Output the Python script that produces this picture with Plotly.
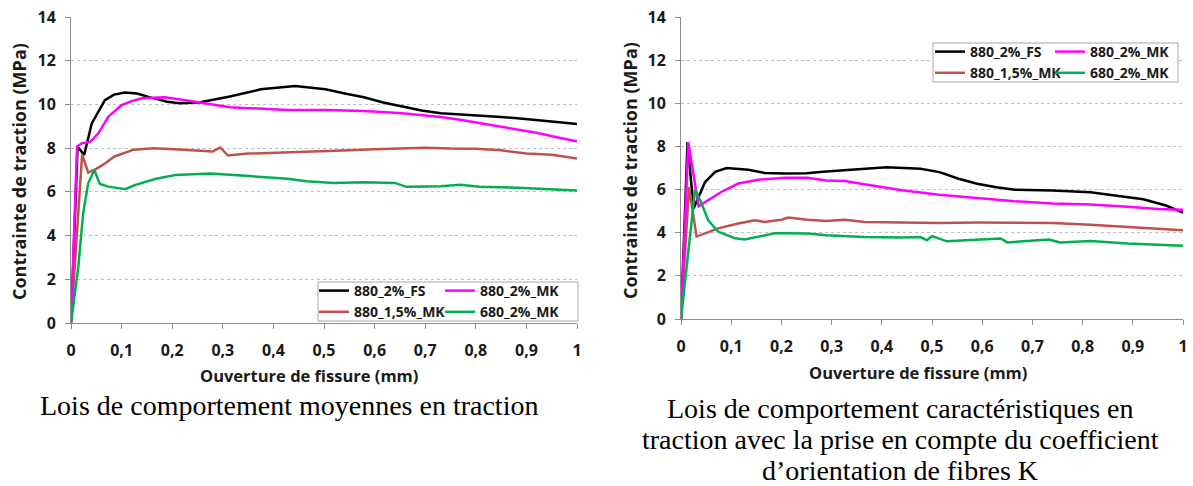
import plotly.graph_objects as go

W, H = 1193, 486


def px(x):
    return x / W


def py(y):
    return 1 - y / H


# ---------------- data : left chart (moyennes) ----------------
L_FS_x = [0, 0.013, 0.026, 0.041, 0.067, 0.085, 0.107, 0.13, 0.16, 0.19, 0.215, 0.253, 0.314, 0.375,
          0.443, 0.503, 0.541, 0.579, 0.617, 0.655, 0.693, 0.731, 0.77, 0.807, 0.85, 0.882, 0.92, 0.96, 1.0]
L_FS_y = [0, 8.07, 7.69, 9.13, 10.2, 10.45, 10.55, 10.5, 10.3, 10.12, 10.05, 10.09, 10.36, 10.69,
          10.84, 10.69, 10.5, 10.33, 10.09, 9.9, 9.72, 9.6, 9.53, 9.48, 9.42, 9.37, 9.3, 9.2, 9.1]

L_MK2_x = [0, 0.012, 0.021, 0.038, 0.054, 0.074, 0.1, 0.12, 0.14, 0.162, 0.185, 0.223, 0.276, 0.314,
           0.352, 0.428, 0.503, 0.579, 0.655, 0.693, 0.731, 0.769, 0.807, 0.845, 0.882, 0.92, 0.96, 1.0]
L_MK2_y = [0, 8.07, 8.22, 8.29, 8.68, 9.44, 9.97, 10.15, 10.28, 10.32, 10.33, 10.2, 10.02, 9.87,
           9.83, 9.75, 9.75, 9.7, 9.6, 9.52, 9.42, 9.3, 9.15, 9.0, 8.85, 8.7, 8.5, 8.31]

L_MK15_x = [0, 0.022, 0.034, 0.05, 0.067, 0.086, 0.124, 0.162, 0.205, 0.25, 0.28, 0.295, 0.31, 0.35,
            0.4, 0.45, 0.5, 0.55, 0.6, 0.65, 0.7, 0.75, 0.8, 0.85, 0.9, 0.95, 1.0]
L_MK15_y = [0, 7.72, 6.88, 7.05, 7.3, 7.62, 7.93, 8.0, 7.95, 7.9, 7.85, 8.03, 7.66, 7.75,
            7.78, 7.82, 7.86, 7.9, 7.95, 8.0, 8.02, 7.98, 7.97, 7.9, 7.75, 7.7, 7.52]

L_680_x = [0, 0.0145, 0.024, 0.034, 0.046, 0.057, 0.074, 0.107, 0.126, 0.166, 0.206, 0.276, 0.352,
           0.428, 0.466, 0.519, 0.579, 0.64, 0.663, 0.731, 0.769, 0.807, 0.882, 0.94, 1.0]
L_680_y = [0, 2.58, 5.02, 6.39, 7.0, 6.36, 6.24, 6.12, 6.31, 6.59, 6.77, 6.84, 6.72,
           6.6, 6.49, 6.41, 6.44, 6.41, 6.23, 6.26, 6.32, 6.23, 6.19, 6.12, 6.06]

# ---------------- data : right chart (caractéristiques) ----------------
R_FS_x = [0, 0.013, 0.025, 0.035, 0.048, 0.068, 0.091, 0.134, 0.167, 0.207, 0.25, 0.289, 0.365, 0.41,
          0.477, 0.515, 0.553, 0.59, 0.628, 0.665, 0.74, 0.816, 0.853, 0.89, 0.921, 0.966, 1.0]
R_FS_y = [0, 8.2, 5.12, 5.66, 6.35, 6.82, 7.0, 6.92, 6.77, 6.74, 6.76, 6.84, 6.96, 7.04,
          6.96, 6.81, 6.5, 6.27, 6.11, 5.99, 5.96, 5.88, 5.76, 5.65, 5.55, 5.26, 4.93]

R_MK2_x = [0, 0.0146, 0.035, 0.054, 0.081, 0.114, 0.154, 0.207, 0.252, 0.289, 0.327, 0.365, 0.44,
           0.515, 0.59, 0.665, 0.74, 0.816, 0.89, 0.95, 1.0]
R_MK2_y = [0, 8.2, 5.23, 5.5, 5.9, 6.28, 6.46, 6.55, 6.55, 6.42, 6.4, 6.25, 5.97,
           5.76, 5.6, 5.46, 5.36, 5.31, 5.2, 5.1, 5.06]

R_MK15_x = [0, 0.016, 0.031, 0.048, 0.074, 0.114, 0.147, 0.167, 0.2, 0.214, 0.252, 0.289, 0.327,
            0.365, 0.44, 0.515, 0.59, 0.665, 0.74, 0.816, 0.89, 0.95, 1.0]
R_MK15_y = [0, 6.12, 3.82, 3.97, 4.2, 4.43, 4.58, 4.5, 4.6, 4.7, 4.6, 4.54, 4.6,
            4.5, 4.47, 4.45, 4.47, 4.47, 4.45, 4.37, 4.27, 4.2, 4.11]

R_680_x = [0, 0.028, 0.041, 0.054, 0.074, 0.108, 0.127, 0.154, 0.187, 0.207, 0.252, 0.289, 0.365,
           0.44, 0.477, 0.49, 0.5, 0.53, 0.59, 0.637, 0.65, 0.703, 0.733, 0.755, 0.816, 0.89, 1.0]
R_680_y = [0, 6.0, 5.35, 4.58, 4.05, 3.74, 3.69, 3.82, 3.97, 3.97, 3.96, 3.88, 3.8,
           3.78, 3.8, 3.65, 3.84, 3.6, 3.68, 3.73, 3.55, 3.62, 3.68, 3.55, 3.62, 3.5, 3.39]

NAMES = ["880_2%_FS", "880_1,5%_MK", "880_2%_MK", "680_2%_MK"]
COLORS = ["#000000", "#C0504D", "#FF00FF", "#00B050"]

X_TICKS = [0, 0.1, 0.2, 0.3, 0.4, 0.5, 0.6, 0.7, 0.8, 0.9, 1]
Y_TICKS = [0, 2, 4, 6, 8, 10, 12, 14]

X_TITLE = "Ouverture de fissure (mm)"
Y_TITLE = "Contrainte de traction (MPa)"
CAP_LEFT = "Lois de comportement moyennes en traction"
CAP_RIGHT = ["Lois de comportement caractéristiques en",
             "traction avec la prise en compte du coefficient",
             "d’orientation de fibres K"]

SANS = "Open Sans"
SERIF = "Liberation Serif"
TXT = "#1a1a1a"
AX = "#8c8c8c"

fig = go.Figure()

left = [(L_FS_x, L_FS_y), (L_MK15_x, L_MK15_y), (L_MK2_x, L_MK2_y), (L_680_x, L_680_y)]
right = [(R_FS_x, R_FS_y), (R_MK15_x, R_MK15_y), (R_MK2_x, R_MK2_y), (R_680_x, R_680_y)]

legend_of_left = {0: "legend", 1: "legend", 2: "legend2", 3: "legend2"}
legend_of_right = {0: "legend3", 1: "legend3", 2: "legend4", 3: "legend4"}

for i in [0, 1, 2, 3]:
    xs, ys = left[i]
    fig.add_trace(go.Scatter(x=xs, y=ys, mode="lines", name=NAMES[i],
                             line=dict(color=COLORS[i], width=2.5),
                             xaxis="x", yaxis="y", legend=legend_of_left[i]))
for i in [0, 1, 2, 3]:
    xs, ys = right[i]
    fig.add_trace(go.Scatter(x=xs, y=ys, mode="lines", name=NAMES[i],
                             line=dict(color=COLORS[i], width=2.5),
                             xaxis="x2", yaxis="y2", legend=legend_of_right[i]))

tickfont = dict(family=SANS, size=16, color=TXT, weight="bold")


def xax(dom, anchor):
    return dict(domain=dom, range=[0, 1], tickmode="array", tickvals=X_TICKS,
                showline=True, linecolor=AX, linewidth=1, ticks="outside", ticklen=5,
                tickcolor=AX, showgrid=False, zeroline=False, tickfont=tickfont,
                anchor=anchor, ticklabelstandoff=8, fixedrange=True, automargin=False,
                ticklabeloverflow="allow")


def yax(dom, anchor):
    return dict(domain=dom, range=[0, 14], tickmode="array", tickvals=Y_TICKS,
                showline=True, linecolor=AX, linewidth=1, ticks="outside", ticklen=5,
                tickcolor=AX, showgrid=True, gridcolor="#bfbfbf", griddash="dot",
                gridwidth=1, zeroline=False, tickfont=tickfont, anchor=anchor,
                ticklabelstandoff=6, fixedrange=True, automargin=False,
                ticklabeloverflow="allow")


legfont = dict(family=SANS, size=14, color=TXT, weight="bold")


def leg(xp, yp):
    return dict(x=px(xp), y=py(yp), xanchor="left", yanchor="top",
                bgcolor="rgba(0,0,0,0)", borderwidth=0, font=legfont,
                itemwidth=30, tracegroupgap=0, orientation="v")


annos = []
x_font = dict(family=SANS, size=16.5, color=TXT, weight="bold")
y_font = dict(family=SANS, size=18, color=TXT, weight="bold")
annos.append(dict(text=X_TITLE, x=px(309), y=py(375), xref="paper", yref="paper",
                  xanchor="center", yanchor="middle", showarrow=False, font=x_font))
annos.append(dict(text=X_TITLE, x=px(918), y=py(372), xref="paper", yref="paper",
                  xanchor="center", yanchor="middle", showarrow=False, font=x_font))
annos.append(dict(text=Y_TITLE, x=px(19), y=py(172), xref="paper", yref="paper",
                  xanchor="center", yanchor="middle", showarrow=False, font=y_font,
                  textangle=-90))
annos.append(dict(text=Y_TITLE, x=px(630), y=py(170), xref="paper", yref="paper",
                  xanchor="center", yanchor="middle", showarrow=False, font=y_font,
                  textangle=-90))
cap_font = dict(family=SERIF, size=28, color="#000000")
annos.append(dict(text=CAP_LEFT, x=px(289), y=py(405), xref="paper", yref="paper",
                  xanchor="center", yanchor="middle", showarrow=False, font=cap_font))
for k, line in enumerate(CAP_RIGHT):
    annos.append(dict(text=line, x=px(900), y=py(408 + 31 * k), xref="paper", yref="paper",
                      xanchor="center", yanchor="middle", showarrow=False, font=cap_font))

shapes = [
    dict(type="rect", xref="paper", yref="paper", x0=px(318), x1=px(578),
         y0=py(282), y1=py(321), line=dict(color="#a6a6a6", width=1),
         fillcolor="white", layer="above"),
    dict(type="rect", xref="paper", yref="paper", x0=px(933), x1=px(1178),
         y0=py(43), y1=py(82), line=dict(color="#a6a6a6", width=1),
         fillcolor="white", layer="above"),
]

fig.update_layout(
    width=W, height=H, autosize=False,
    margin=dict(l=0, r=0, t=0, b=0, pad=0),
    paper_bgcolor="white", plot_bgcolor="white",
    separators=", ",
    xaxis=xax([px(71), px(577)], "y"),
    yaxis=yax([py(323), py(17)], "x"),
    xaxis2=xax([px(681), px(1183)], "y2"),
    yaxis2=yax([py(319), py(17)], "x2"),
    legend=leg(314, 275),
    legend2=leg(440, 275),
    legend3=leg(930, 36),
    legend4=leg(1050, 36),
    annotations=annos,
    shapes=shapes,
    showlegend=True,
)

# remove the browser's default 8px body margin so the figure fills the window
fig.write_html("out.html", config={"displayModeBar": False},
               post_script="document.body.style.margin='0px';")
